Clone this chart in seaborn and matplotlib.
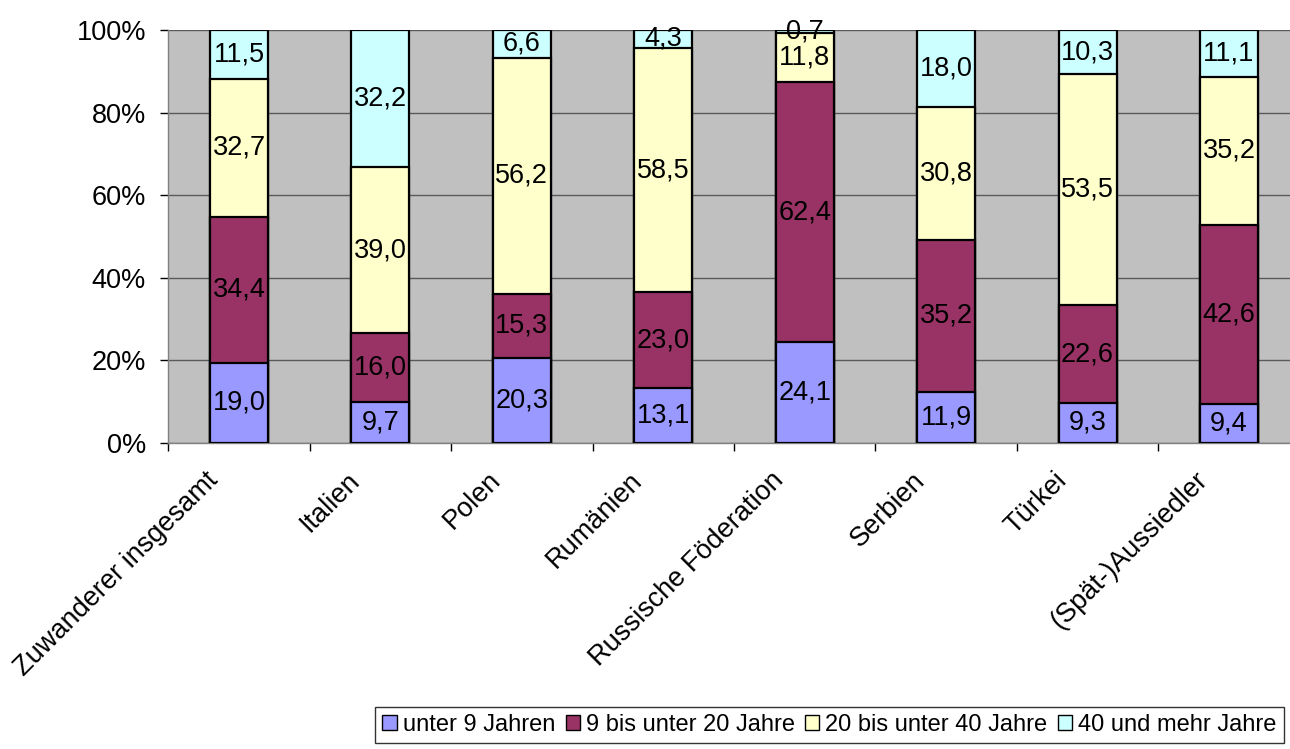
import numpy as np
import pandas as pd
import matplotlib
matplotlib.use("Agg")
import matplotlib.pyplot as plt
import matplotlib.transforms as mtransforms
import seaborn as sns
from matplotlib.patches import Patch

categories = ["Zuwanderer insgesamt", "Italien", "Polen", "Rumänien",
              "Russische Föderation", "Serbien", "Türkei", "(Spät-)Aussiedler"]
series_names = ["unter 9 Jahren", "9 bis unter 20 Jahre",
                "20 bis unter 40 Jahre", "40 und mehr Jahre"]
unter9 = [19.0, 9.7, 20.3, 13.1, 24.1, 11.9, 9.3, 9.4]
bis20 = [34.4, 16.0, 15.3, 23.0, 62.4, 35.2, 22.6, 42.6]
bis40 = [32.7, 39.0, 56.2, 58.5, 11.8, 30.8, 53.5, 35.2]
mehr40 = [11.5, 32.2, 6.6, 4.3, 0.7, 18.0, 10.3, 11.1]
colors = ["#9999FF", "#993366", "#FFFFCC", "#CCFFFF"]
yticks = [0, 20, 40, 60, 80, 100]

sns.set_theme(style="white")
plt.rcParams["font.family"] = ["Liberation Sans", "DejaVu Sans"]
plt.rcParams["text.color"] = "black"
plt.rcParams["xtick.color"] = "black"
plt.rcParams["ytick.color"] = "black"

vals = np.array([unter9, bis20, bis40, mehr40])
pct = vals / vals.sum(axis=0) * 100
cum = np.cumsum(pct, axis=0)

FS = 19.5

fig = plt.figure(figsize=(12.9, 7.49), dpi=100)
ax = fig.add_axes([0.1305, 0.4085, 0.877, 0.5515])
ax.set_facecolor("#C0C0C0")

for i in range(3, -1, -1):
    df = pd.DataFrame({"cat": categories, "v": cum[i]})
    sns.barplot(data=df, x="cat", y="v", color=colors[i], saturation=1,
                width=0.41, edgecolor="black", linewidth=1.6, ax=ax, zorder=3)

for i in range(4):
    for j in range(len(categories)):
        bottom = cum[i][j] - pct[i][j]
        mid = bottom + pct[i][j] / 2
        ax.text(j, mid, f"{vals[i][j]:.1f}".replace(".", ","), ha="center",
                va="center", fontsize=FS, color="black", zorder=5)

ax.set_xlim(-0.5, len(categories) - 0.5)
ax.set_ylim(0, 100)
ax.set_yticks(yticks)
ax.set_yticklabels([f"{t}%" for t in yticks], fontsize=FS)
ax.yaxis.grid(True, color="#5a5a5a", linewidth=1, zorder=0)
ax.set_axisbelow(True)
ax.set_xlabel("")
ax.set_ylabel("")
ax.set_xticks(range(len(categories)))
ax.set_xticklabels(categories, rotation=45, ha="right", va="center",
                   rotation_mode="anchor", fontsize=FS)
ax.tick_params(axis="x", length=0, pad=24)
offset = mtransforms.ScaledTranslation(-0.25, 0, fig.dpi_scale_trans)
for lab in ax.get_xticklabels():
    lab.set_transform(lab.get_transform() + offset)
ax.set_xticks(np.arange(-0.5, len(categories), 1), minor=True)
ax.tick_params(axis="x", which="minor", length=6, color="black", width=1,
               direction="out", bottom=True)
ax.tick_params(axis="y", length=6, color="black", width=1, direction="out",
               left=True, pad=10)
for s in ["top", "right"]:
    ax.spines[s].set_visible(False)
for s in ["left", "bottom"]:
    ax.spines[s].set_color("#808080")
    ax.spines[s].set_linewidth(1)

handles = [Patch(facecolor=c, edgecolor="black", linewidth=1) for c in colors]
leg = fig.legend(handles, series_names, loc="lower right",
                 bbox_to_anchor=(0.995, 0.008), ncol=4, frameon=True,
                 fontsize=17, handlelength=0.6, handleheight=0.6,
                 handletextpad=0.25, columnspacing=0.45, borderpad=0.3,
                 borderaxespad=0, fancybox=False, edgecolor="black")
leg.get_frame().set_linewidth(1)

fig.savefig("out.png", dpi=100)
